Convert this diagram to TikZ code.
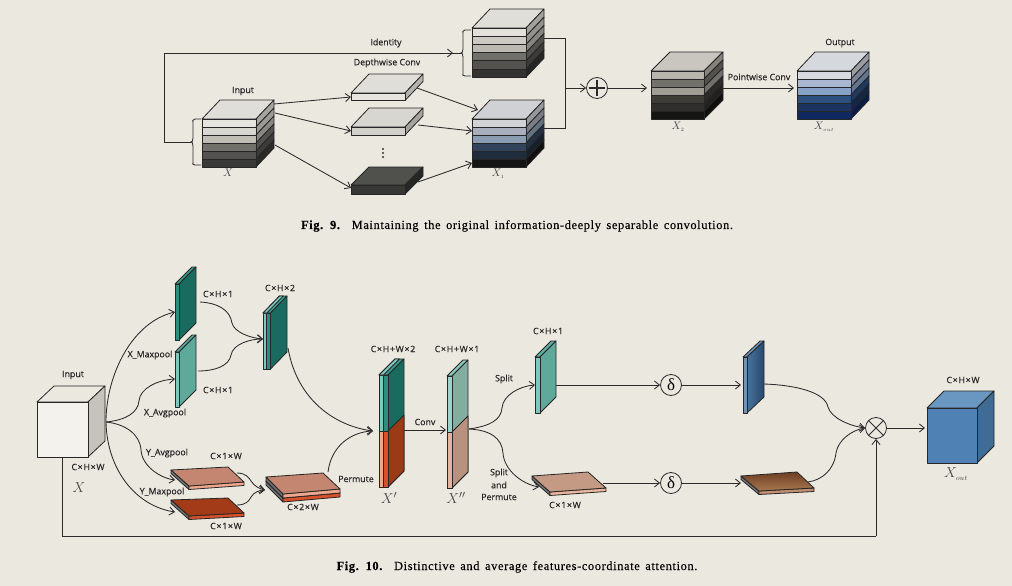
\documentclass[tikz,border=0pt]{standalone}
\usepackage{fontspec}
\newfontfamily\labfont[FakeBold=0.35]{Open Sans}
\newfontfamily\dimfont[FakeBold=0.35,LetterSpace=8]{Open Sans}
\newfontfamily\capfont[LetterSpace=5,WordSpace=1.5,FakeBold=0.15]{Liberation Serif}
\newfontfamily\symfont{Liberation Serif}
\usetikzlibrary{arrows.meta,calc}
\definecolor{bg}{HTML}{EBE8E0}
\definecolor{ink}{HTML}{2B2B2B}
\definecolor{blueS}{HTML}{4A7299}
\definecolor{blueE}{HTML}{254A70}
\definecolor{brownA}{HTML}{6E3E22}
\definecolor{brownB}{HTML}{A87850}
\tikzset{
  hx/.code={\edef\tmphx{\noexpand\definecolor{hxc}{HTML}{#1}}\tmphx\tikzset{fill=hxc}},
  hxd/.code={\edef\tmphx{\noexpand\definecolor{hxc}{HTML}{#1}}\tmphx\tikzset{fill=hxc!72!black}},
  conn/.style={draw=ink,line width=0.85pt,-{Straight Barb[length=5pt,width=8pt,line width=0.85pt]}},
  plain/.style={draw=ink,line width=0.85pt},
  edge/.style={draw=black!85,line width=0.8pt,line join=round},
  lab/.style={font=\labfont\fontsize{8.8}{10}\selectfont,text=black!85,inner sep=0pt,align=center},
  dimlab/.style={font=\dimfont\fontsize{8.8}{10}\selectfont,text=black!85,inner sep=0pt},
  mlab/.style={text=black!72,inner sep=0pt,font=\fontsize{15}{16}\selectfont},
  mlabs/.style={text=black!72,inner sep=0pt,font=\fontsize{10.5}{12}\selectfont},
  ring/.style={circle,draw=ink,line width=0.8pt,minimum size=21pt,inner sep=0pt,fill=bg},
  caption/.style={inner sep=0pt,font=\capfont\fontsize{12.4}{14}\selectfont,text=black}
}
% stacked cube: x y w layerh dx dy top {colours}
\newcommand{\stackcube}[8]{%
  \path[hx=#7,edge] (#1,#2) -- ++(#5,-#6) -- ++(#3,0) -- ++(-#5,#6) -- cycle;
  \foreach \cc [count=\ii from 0] in {#8} {
    \pgfmathsetmacro{\yy}{#2+\ii*#4}
    \path[hxd=\cc,edge] (#1+#3,\yy) -- ++(#5,-#6) -- ++(0,#4) -- ++(-#5,#6) -- cycle;
    \path[hx=\cc,edge] (#1,\yy) rectangle ++(#3,#4);
  }
}
% upright plate: x y w h dx dy front side top
\newcommand{\vplate}[9]{%
  \path[hx=#9,edge] (#1,#2) -- ++(#5,-#6) -- ++(#3,0) -- ++(-#5,#6) -- cycle;
  \path[hx=#8,edge] (#1+#3,#2) -- ++(#5,-#6) -- ++(0,#4) -- ++(-#5,#6) -- cycle;
  \path[hx=#7,edge] (#1,#2) rectangle ++(#3,#4);
}
% flat plate: four corners (back left, back right, front right, front left), thickness, top, front
\newcommand{\flatplate}[7]{%
  \path[fill=black!55,edge] #1 -- #4 -- ($#4+(0,#5)$) -- ($#1+(0,#5)$) -- cycle;
  \path[hx=#7,edge] #4 -- #3 -- ($#3+(0,#5)$) -- ($#4+(0,#5)$) -- cycle;
  \path[hx=#6,edge] #1 -- #2 -- #3 -- #4 -- cycle;
}
\begin{document}
\begin{tikzpicture}[x=1pt,y=-1pt]
\useasboundingbox (0,0) rectangle (1012,586);
\fill[bg] (0,0) rectangle (1012,586);

%%%%%%%%%% Fig. 9
\stackcube{202}{119}{54}{8}{18}{19}{E0DED8}{E6E4DE,D8D6D0,BFBDB6,72716C,53524F,3A3A38}
\stackcube{472}{28}{54}{8.2}{18}{19}{E0DED8}{E2E0DA,CCC9C3,BBB9B2,70706B,53524F,333331}
\stackcube{472}{119}{54}{8}{18}{19}{CFD1D4}{D0D2D6,A9AEBC,8A9DB2,31445C,1F2C3C,151515}
\stackcube{651}{71}{53}{8}{19}{19}{C9C6BF}{B8B5AE,72716B,9E9C95,3D3C37,2F2E2A,151512}
\stackcube{797}{71}{54}{8}{18}{19}{D5D8DD}{D6D9DE,A9B8D0,86A2C7,2C4F80,1C3560,0F2860}
\vplate{351}{93}{54}{7.5}{18}{19}{E6E4DE}{B5B3AD}{E0DED8}
\vplate{351}{127}{54}{8}{18}{19}{D2D0CA}{A5A39D}{D8D6D0}
\vplate{351}{185}{54}{9}{18}{18}{373734}{262624}{50504C}

\coordinate (inA) at (274,104);
\coordinate (inB) at (275,113);
\coordinate (inC) at (275,145);
\coordinate (sA) at (351,97);
\coordinate (sB) at (351,131);
\coordinate (sC) at (351,188);
\coordinate (sAo) at (417,88);
\coordinate (sBo) at (418,125);
\coordinate (sCo) at (418,182);
\coordinate (xaA) at (478,110);
\coordinate (xaB) at (472,131);
\coordinate (xaC) at (472,163);
\draw[conn] (inA) -- (sA);
\draw[conn] (inB) -- (sB);
\draw[conn] (inC) -- (sC);
\draw[conn] (sAo) -- (xaA);
\draw[conn] (sBo) -- (xaB);
\draw[conn] (sCo) -- (xaC);

% braces
\coordinate (brA) at (191,142);
\coordinate (brB) at (461,53);
\draw[plain] (201,119) -- (195,119) .. controls (192,119) and (193,121) .. (193,124) -- (193,138) .. controls (193,141) and (192,142) .. (brA) .. controls (192,142) and (193,143) .. (193,146) -- (193,161) .. controls (193,164) and (192,165) .. (195,165) -- (201,165);
\draw[plain] (471,30) -- (465,30) .. controls (462,30) and (463,32) .. (463,35) -- (463,49) .. controls (463,52) and (462,53) .. (brB) .. controls (462,53) and (463,54) .. (463,57) -- (463,72) .. controls (463,75) and (462,76) .. (465,76) -- (471,76);

\coordinate (idL) at (164,142);
\coordinate (idT) at (164,53);
\coordinate (idE) at (453,53);
\draw[plain] (brA) -- (idL) -- (idT) -- (brB);
\draw[conn] (idT) -- (idE);

\node[ring] (plus) at (597,88) {};
\draw[draw=ink,line width=1.1pt] ($(plus.north)+(0,2.5)$) -- ($(plus.south)+(0,-2.5)$);
\draw[draw=ink,line width=1.1pt] ($(plus.west)+(2.5,0)$) -- ($(plus.east)+(-2.5,0)$);

\coordinate (tsR) at (544,38);
\coordinate (xaR) at (544,128);
\coordinate (jT) at (565.5,38);
\coordinate (jB) at (565.5,128);
\coordinate (jM) at (565.5,88);
\coordinate (x2L) at (647,88);
\coordinate (x2R) at (723,88);
\coordinate (xoL) at (794,88);
\draw[plain] (tsR) -- (jT) -- (jB) -- (xaR);
\draw[conn] (jM) -- (plus.west);
\draw[conn] (plus.east) -- (x2L);
\draw[conn] (x2R) -- (xoL);

\node[lab] (l1) at (386,43) {Identity};
\node[lab] (l2) at (387,63) {Depthwise Conv};
\node[lab] (l3) at (243,91) {Input};
\node[lab] (l4) at (759,77) {Pointwise Conv};
\node[lab] (l5) at (840,43) {Output};
\node[mlabs] (m1) at (228,173) {$X$};
\node[mlabs] (m2) at (498,174) {$X_{\scriptscriptstyle 1}$};
\node[mlabs] (m3) at (678,127) {$X_{\scriptscriptstyle 2}$};
\node[mlabs] (m4) at (824,127) {$X_{\scriptscriptstyle out}$};
\foreach \yy in {149,153,157} \fill[black!80] (383,\yy) circle (1.1);
\node[caption] (c9) at (517,226) {\textbf{Fig. 9.}\ \ Maintaining the original information-deeply separable convolution.};

%%%%%%%%%% Fig. 10
% input cube
\path[fill=bg,edge] (37,402) -- ++(17,-16) -- ++(51,0) -- ++(-17,16) -- cycle;
\path[hx=C5C3BB,edge] (88,402) -- ++(17,-16) -- ++(0,55) -- ++(-17,16) -- cycle;
\path[hx=F3F2ED,edge] (37,402) rectangle (88,457);

\vplate{175}{284}{4}{56}{17}{17}{2F8D80}{1A6B5F}{3B9A8B}
\vplate{175}{352}{4}{55}{17}{17}{7DC9C0}{5FA99B}{5FB0A2}
% C x H x 2
\vplate{263}{313}{7.5}{56}{16.5}{17}{2F8D80}{1A6B5F}{3B9A8B}
\path[hx=7DC9C0,edge] (263,313) rectangle (266.8,369);
\path[hx=7DC9C0,edge] (263,313) -- ++(16.5,-17) -- ++(3.8,0) -- ++(-16.5,17) -- cycle;

\flatplate{(171,470)}{(228,467)}{(244,482)}{(189,486)}{3.5}{C48670}{EFA78C}
\flatplate{(171,500)}{(228,498)}{(244,513)}{(189,516)}{3.5}{A33A18}{D8502A}
\flatplate{(266,481)}{(323,477)}{(340,493)}{(283,498)}{4}{A33A18}{D8502A}
\flatplate{(266,477)}{(323,473)}{(340,489)}{(283,494)}{4}{C48670}{EFA78C}

% X'
\vplate{379}{375}{9}{112}{16}{16}{2F8D80}{1A6B5F}{3B9A8B}
\path[hx=7DC9C0,edge] (379,375) rectangle (383.5,431);
\path[hx=7DC9C0,edge] (379,375) -- ++(16,-16) -- ++(4.5,0) -- ++(-16,16) -- cycle;
\path[hx=9A3A17,edge] (388,431) -- (404,415) -- (404,471) -- (388,487) -- cycle;
\path[hx=D8502A,edge] (383.5,431) rectangle (388,487);
\path[hx=EFA78C,edge] (379,431) rectangle (383.5,487);
% X''
\vplate{447}{376}{5}{112}{16}{16}{9AD5CC}{82AD9F}{8CC9BE}
\path[hx=B9917F,edge] (452,432) -- (468,416) -- (468,472) -- (452,488) -- cycle;
\path[hx=E8B39D,edge] (447,432) rectangle (452,488);
% split plate
\vplate{535}{357}{5}{56}{16}{16}{7DC9C0}{5FA99B}{5FB0A2}
\flatplate{(532,476)}{(588,472)}{(606,488)}{(550,492)}{3.5}{C49A85}{EAB79C}
% blue plate
\path[hx=6F93B8,edge] (743,357) -- ++(17,-16) -- ++(4,0) -- ++(-17,16) -- cycle;
\path[left color=blueS,right color=blueE,edge] (747,357) -- ++(17,-16) -- ++(0,56) -- ++(-17,16) -- cycle;
\path[hx=6F93B8,edge] (743,357) rectangle (747,413);
% brown plate
\path[fill=black!55,edge] (741,476) -- (759,491) -- (759,494.5) -- (741,479.5) -- cycle;
\path[hx=C08F72,edge] (759,491) -- (814,488) -- (814,491.5) -- (759,494.5) -- cycle;
\path[top color=brownA,bottom color=brownB,edge] (741,476) -- (797,472) -- (814,488) -- (759,491) -- cycle;
% output cube
\path[hx=6A97C2,edge] (927,408) -- ++(17,-17) -- ++(50,0) -- ++(-17,17) -- cycle;
\path[hx=3F6B94,edge] (977,408) -- ++(17,-17) -- ++(0,55) -- ++(-17,17) -- cycle;
\path[hx=4F81B5,edge] (927,408) rectangle (977,463);

% operators
\node[ring,font=\symfont\fontsize{17}{17}\selectfont] (d1) at (671,385) {δ};
\node[ring,font=\symfont\fontsize{17}{17}\selectfont] (d2) at (671,483) {δ};
\node[ring] (mul) at (876,428) {};
\draw[draw=ink,line width=0.9pt] (mul.north west) -- (mul.south east);
\draw[draw=ink,line width=0.9pt] (mul.north east) -- (mul.south west);

% connector ends
\coordinate (o) at (106,422);
\coordinate (a1) at (175,312);
\coordinate (a2) at (175,379);
\coordinate (a3) at (175,480);
\coordinate (a4) at (175,512);
\coordinate (b1) at (200,302);
\coordinate (b2) at (198,371);
\coordinate (b3) at (263,339);
\coordinate (c1) at (237,473);
\coordinate (c2) at (237,505);
\coordinate (c3) at (265,490);
\coordinate (e1) at (288,348);
\coordinate (e2) at (328,472);
\coordinate (e3) at (373,431);
\coordinate (f1) at (404,430);
\coordinate (f2) at (446,430);
\coordinate (g0) at (469,429);
\coordinate (g1) at (535,385);
\coordinate (g2) at (539,487);
\coordinate (h1) at (556,385);
\coordinate (h2) at (603,483);
\coordinate (i1) at (741,385);
\coordinate (i2) at (741,483);
\coordinate (j1) at (764,384);
\coordinate (j2) at (808,482);
\coordinate (k1) at (925,428);
\coordinate (n1) at (62,457);
\coordinate (n2) at (62,536);
\coordinate (n3) at (876,536);

\draw[conn] (o) .. controls (106,375) and (132,322) .. (a1);
\draw[conn] (o) .. controls (127,420) and (138,412) .. (139,401) .. controls (140,388) and (158,380) .. (a2);
\draw[conn] (o) .. controls (125,424) and (140,434) .. (141,450) .. controls (142,466) and (160,478) .. (a3);
\draw[conn] (o) .. controls (107,470) and (136,506) .. (a4);
\draw[conn] (b1) .. controls (218,303) and (230,310) .. (232,323) .. controls (234,332) and (250,338) .. (b3);
\draw[conn] (b2) .. controls (215,371) and (229,366) .. (231,355) .. controls (233,344) and (250,339) .. (b3);
\draw[conn] (c1) .. controls (246,473) and (249,478) .. (251,481) .. controls (254,486) and (260,489) .. (c3);
\draw[conn] (c2) .. controls (246,505) and (249,501) .. (251,497) .. controls (254,492) and (260,490) .. (c3);
\draw[conn] (e1) .. controls (297,400) and (335,426) .. (e3);
\draw[conn] (e2) .. controls (331,447) and (350,432) .. (e3);
\draw[conn] (f1) -- (f2);
\draw[conn] (g0) .. controls (490,426) and (501,420) .. (502,408) .. controls (503,395) and (520,386) .. (g1);
\draw[conn] (g0) .. controls (490,430) and (502,438) .. (503,453) .. controls (504,470) and (522,484) .. (g2);
\draw[conn] (h1) -- (d1.west);
\draw[conn] (h2) -- (d2.west);
\draw[conn] (d1.east) -- (i1);
\draw[conn] (d2.east) -- (i2);
\draw[conn] (j1) .. controls (795,385) and (825,392) .. (828,407) .. controls (831,418) and (850,426) .. (mul.west);
\draw[conn] (j2) .. controls (822,480) and (834,470) .. (836,453) .. controls (838,440) and (852,430) .. (mul.west);
\draw[conn] (mul.east) -- (k1);
\draw[plain] (n1) -- (n2) -- (n3);
\draw[conn] (n3) -- (mul.south);

% labels
\node[lab] (t1) at (73,375) {Input};
\node[dimlab] (t2) at (88,467) {C×H×W};
\node[mlab] (t3) at (79,488) {$X$};
\node[dimlab] (t4) at (218,294) {C×H×1};
\node[dimlab] (t5) at (280,288) {C×H×2};
\node[lab] (t6) at (150,355) {X\_Maxpool};
\node[dimlab] (t7) at (218,390) {C×H×1};
\node[lab] (t8) at (165,413) {X\_Avgpool};
\node[lab] (t9) at (167,453) {Y\_Avgpool};
\node[dimlab] (t10) at (226,456) {C×1×W};
\node[lab] (t11) at (162,492) {Y\_Maxpool};
\node[dimlab] (t12) at (303,507) {C×2×W};
\node[dimlab] (t13) at (226,526) {C×1×W};
\node[lab] (t14) at (356,479) {Permute};
\node[dimlab] (t15) at (393,349) {C×H+W×2};
\node[dimlab] (t16) at (457,349) {C×H+W×1};
\node[lab] (t17) at (425,422) {Conv};
\node[mlab] (t18) at (389,498) {$X'$};
\node[mlab] (t19) at (456,498) {$X''$};
\node[lab] (t20) at (504,379) {Split};
\node[dimlab] (t21) at (548,331) {C×H×1};
\node[lab] (t22) at (499,473) {Split};
\node[lab] (t23) at (499,485) {and};
\node[lab] (t24) at (499,497) {Permute};
\node[dimlab] (t25) at (565,505) {C×1×W};
\node[dimlab] (t26) at (963,380) {C×H×W};
\node[mlab] (t27) at (956,474) {$X_{\scriptscriptstyle out}$};
\node[caption] (c10) at (517,567) {\textbf{Fig. 10.}\ \ Distinctive and average features-coordinate attention.};
\end{tikzpicture}
\end{document}
